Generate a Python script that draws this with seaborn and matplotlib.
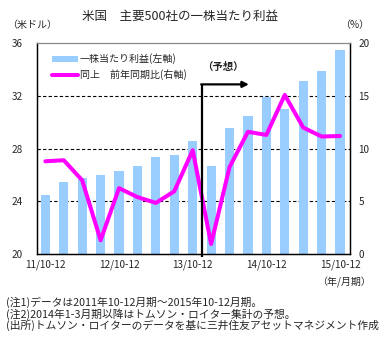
import matplotlib
matplotlib.use("Agg")
import matplotlib.pyplot as plt
import seaborn as sns
import pandas as pd
import numpy as np
from matplotlib.patches import Patch
from matplotlib.lines import Line2D

sns.set_theme(style="white")
plt.rcParams['font.family'] = ['Noto Sans CJK JP', 'DejaVu Sans']

# ---- data ----
quarters = ["11/10-12", "12/1-3", "12/4-6", "12/7-9", "12/10-12", "13/1-3", "13/4-6", "13/7-9",
            "13/10-12", "14/1-3", "14/4-6", "14/7-9", "14/10-12", "15/1-3", "15/4-6", "15/7-9",
            "15/10-12"]
eps = [24.5, 25.5, 25.8, 26.0, 26.3, 26.7, 27.35, 27.55, 28.55, 26.7, 29.55, 30.5, 31.95,
       31.0, 33.1, 33.9, 35.5]
yoy = [8.8, 8.9, 7.0, 1.3, 6.25, 5.4, 4.85, 5.95, 9.85, 0.95, 8.25, 11.6, 11.3, 15.1, 12.0,
       11.15, 11.2]
tick_labels = ["11/10-12", "12/10-12", "13/10-12", "14/10-12", "15/10-12"]
label_pos = [0, 4, 8, 12, 16]
forecast_start = 8.5

df = pd.DataFrame({"q": quarters, "eps": eps, "yoy": yoy, "idx": np.arange(len(quarters))})

fig = plt.figure(figsize=(3.87, 3.45), dpi=100)
ax = fig.add_axes([0.0948, 0.2638, 0.8096, 0.6107])

sns.barplot(data=df, x="idx", y="eps", color="#99CCFF", saturation=1, width=0.5, ax=ax,
            edgecolor="none", native_scale=False)
ax.set_ylim(20, 36)
ax.set_xlim(-0.47, 16.54)
ax.set_yticks([20, 24, 28, 32, 36])
ax.set_yticklabels(["20", "24", "28", "32", "36"])
for v in [24, 28, 32]:
    ax.axhline(v, color="black", lw=0.8, ls=(0, (3, 2)), zorder=0.5)
ax.set_xlabel("")
ax.set_ylabel("")
ax.set_xticks([3.5, 7.5, 11.5, 15.5])
ax.set_xticklabels([])
ax.tick_params(axis="x", direction="in", length=3, width=0.8, color="black")
ax.set_xticks(label_pos, minor=True)
ax.set_xticklabels(tick_labels, minor=True)
ax.tick_params(axis="x", which="minor", length=0, pad=4, labelsize=7.2)
ax.tick_params(axis="y", length=0, pad=10, labelsize=7.2)

ax2 = ax.twinx()
sns.lineplot(data=df, x="idx", y="yoy", color="#FF00FF", lw=2.9, ax=ax2)
ax2.set_ylim(0, 20)
ax2.set_yticks([0, 5, 10, 15, 20])
ax2.tick_params(axis="y", length=0, pad=6, labelsize=7.2)
ax2.set_ylabel("")
ax2.set_xlabel("")

for a in (ax, ax2):
    for s in ["left", "right", "bottom"]:
        a.spines[s].set_color("black")
        a.spines[s].set_linewidth(0.9)
    a.spines["top"].set_color("#888888")
    a.spines["top"].set_linewidth(0.8)

# forecast marker
ax2.plot([forecast_start, forecast_start], [-0.3, 16.1], color="black", lw=1.6,
         clip_on=False, solid_capstyle="butt")
ax2.annotate("", xy=(11.05, 16.1), xytext=(forecast_start - 0.04, 16.1),
             arrowprops=dict(arrowstyle="-|>", lw=1.6, color="black", mutation_scale=9,
                             shrinkA=0, shrinkB=0))
ax2.text(9.63, 17.8, "（予想）", ha="center", va="center", fontsize=7.5, fontweight="bold")

handles = [Patch(facecolor="#99CCFF", edgecolor="none"),
           Line2D([], [], color="#FF00FF", lw=2.9)]
ax2.legend(handles, ["一株当たり利益(左軸)", "同上　前年同期比(右軸)"], loc="upper left",
           bbox_to_anchor=(0.025, 0.985), frameon=False, fontsize=7.2, handlelength=2.6,
           handleheight=0.6, handletextpad=0.2, labelspacing=0.5, borderaxespad=0.3)

fig.text(0.465, 0.953, "米国　主要500社の一株当たり利益", ha="center", va="center", fontsize=9)
fig.text(0.018, 0.928, "（米ドル）", ha="left", va="center", fontsize=7.2)
fig.text(0.953, 0.928, "（%）", ha="right", va="center", fontsize=7.2)
fig.text(0.958, 0.18, "（年/月期）", ha="right", va="center", fontsize=7.2)
notes = ["(注1)データは2011年10-12月期～2015年10-12月期。",
         "(注2)2014年1-3月期以降はトムソン・ロイター集計の予想。",
         "(出所)トムソン・ロイターのデータを基に三井住友アセットマネジメント作成"]
for i, n in enumerate(notes):
    fig.text(0.015, 0.124 - i * 0.0335, n, ha="left", va="center", fontsize=7.75)

fig.savefig("out.png", dpi=100)
